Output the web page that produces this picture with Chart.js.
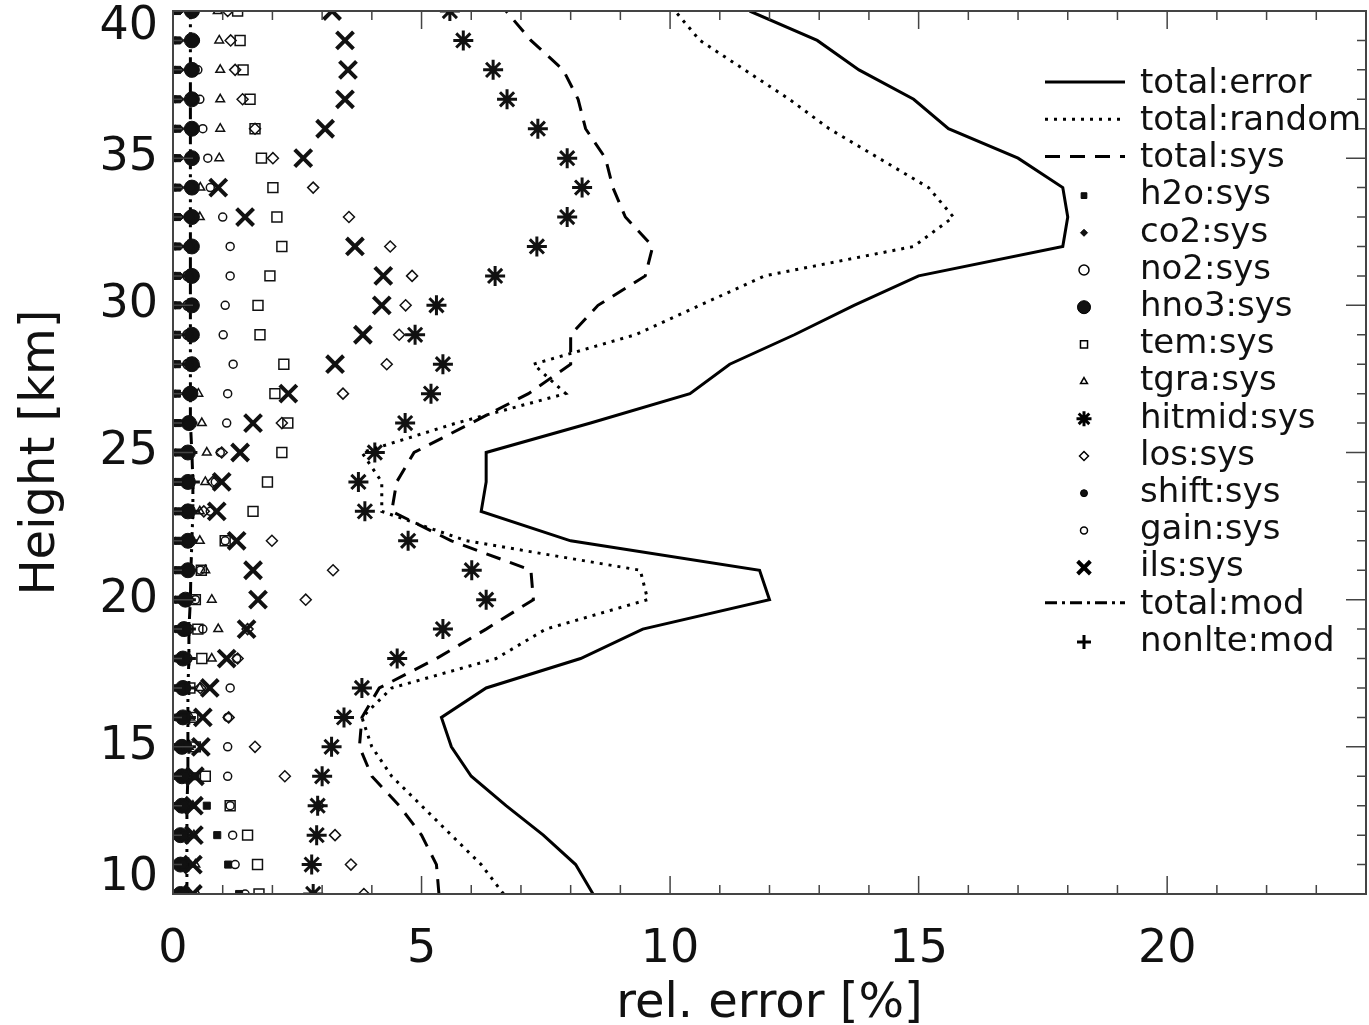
<!DOCTYPE html>
<html>
<head>
<meta charset="utf-8">
<script src="https://cdn.jsdelivr.net/npm/chart.js@4.4.0/dist/chart.umd.min.js"></script>
<style>
  html, body { margin:0; padding:0; background:#fff; }
  canvas { display:block; }
</style>
</head>
<body>
<canvas id="chart" width="1369" height="1025"></canvas>
<script>
// === Data (index 0 = 10 km) ===
const heights = [10,11,12,13,14,15,16,17,18,19,20,21,22,23,24,25,26,27,28,29,30,31,32,33,34,35,36,37,38,39,40];

const totalError  = [8.45,8.10,7.45,6.70,6.00,5.60,5.40,6.30,8.20,9.45,12.0,11.8,8.00,6.20,6.30,6.30,8.40,10.4,11.2,12.5,13.7,15.0,17.9,18.0,17.9,17.0,15.6,14.9,13.8,12.96,11.6];
const totalRandom = [6.65,6.20,5.60,5.00,4.40,4.00,3.80,4.40,6.50,7.50,9.55,9.40,5.90,4.20,4.20,3.80,5.70,7.90,7.25,9.30,10.6,11.9,14.9,15.7,15.2,14.2,13.2,12.4,11.5,10.6,10.1];
const totalSys    = [5.35,5.30,5.00,4.55,4.00,3.75,3.80,4.15,5.30,6.30,7.25,7.20,5.60,4.40,4.50,4.85,6.00,7.15,8.00,8.00,8.55,9.50,9.65,9.10,8.85,8.70,8.30,8.15,7.85,7.20,6.70];

const h2oSys    = [1.33,1.11,0.89,0.68,0.45,0.30,0.22,0.18,0.15,0.12,0.10,0.10,0.10,0.10,0.10,0.10,0.10,0.08,0.08,0.08,0.08,0.08,0.08,0.08,0.08,0.08,0.08,0.08,0.08,0.08,0.08];
const co2Sys    = [0.12,0.12,0.12,0.12,0.12,0.12,0.12,0.12,0.12,0.12,0.12,0.12,0.12,0.12,0.12,0.12,0.12,0.12,0.12,0.12,0.15,0.15,0.15,0.15,0.15,0.15,0.15,0.15,0.15,0.15,0.15];
const no2Sys    = [0.20,0.20,0.22,0.22,0.25,0.25,0.25,0.25,0.28,0.30,0.30,0.30,0.30,0.30,0.30,0.30,0.30,0.30,0.30,0.30,0.30,0.30,0.32,0.32,0.35,0.35,0.38,0.40,0.40,0.42,0.42];
const hno3Sys   = [0.15,0.15,0.15,0.18,0.18,0.18,0.20,0.20,0.20,0.22,0.25,0.30,0.30,0.30,0.30,0.30,0.32,0.35,0.38,0.38,0.38,0.38,0.38,0.38,0.38,0.38,0.38,0.38,0.38,0.38,0.38];
const temSys    = [1.73,1.70,1.50,1.15,0.65,0.45,0.40,0.34,0.58,0.50,0.45,0.57,1.05,1.61,1.90,2.19,2.31,2.05,2.23,1.75,1.71,1.95,2.19,2.09,2.01,1.78,1.65,1.55,1.41,1.35,1.30];
const tgraSys   = [0.48,0.45,0.42,0.40,0.35,0.32,0.35,0.54,0.78,0.91,0.78,0.65,0.54,0.54,0.65,0.68,0.58,0.51,0.45,0.42,0.40,0.40,0.42,0.54,0.55,0.93,0.95,0.95,0.95,0.93,0.90];
const hitmidSys = [2.82,2.79,2.89,2.91,3.00,3.19,3.44,3.80,4.51,5.43,6.30,6.01,4.73,3.86,3.73,4.06,4.67,5.19,5.43,4.87,5.30,6.48,7.32,7.93,8.23,7.93,7.34,6.72,6.44,5.84,5.57];
const losSys    = [3.84,3.58,3.26,2.93,2.25,1.65,1.12,0.55,1.30,1.50,2.67,3.22,1.99,0.62,0.80,0.98,2.19,3.42,4.30,4.55,4.68,4.81,4.37,3.54,2.82,2.01,1.65,1.40,1.25,1.16,1.10];
const shiftSys  = [0.05,0.05,0.05,0.05,0.05,0.05,0.05,0.05,0.05,0.05,0.05,0.05,0.05,0.05,0.05,0.05,0.05,0.05,0.05,0.05,0.05,0.05,0.05,0.05,0.05,0.05,0.05,0.05,0.05,0.05,0.05];
const gainSys   = [1.45,1.25,1.20,1.15,1.10,1.10,1.10,1.15,1.28,0.60,0.45,0.55,1.05,0.75,0.85,0.95,1.08,1.10,1.21,1.01,1.05,1.15,1.15,1.00,0.75,0.70,0.60,0.54,0.50,0.45,0.40];
const ilsSys    = [0.40,0.40,0.42,0.42,0.44,0.56,0.60,0.74,1.08,1.48,1.71,1.61,1.28,0.88,0.98,1.35,1.61,2.32,3.26,3.82,4.20,4.23,3.66,1.45,0.91,2.62,3.06,3.46,3.52,3.46,3.20];
const totalMod  = [0.28,0.28,0.28,0.28,0.30,0.30,0.30,0.30,0.32,0.32,0.35,0.36,0.38,0.40,0.40,0.38,0.35,0.35,0.35,0.35,0.35,0.35,0.35,0.35,0.35,0.35,0.35,0.35,0.35,0.35,0.35];
const nonlteMod = [0.30,0.30,0.30,0.30,0.30,0.32,0.32,0.32,0.32,0.32,0.32,0.35,0.35,0.40,0.40,0.35,0.35,0.32,0.32,0.32,0.32,0.32,0.32,0.35,0.35,0.35,0.35,0.35,0.35,0.35,0.35];

const xTicksMajor = [0, 5, 10, 15, 20];
const FONT = '"DejaVu Sans", sans-serif';

// === Helpers ===
function pts(vals){ return vals.map((v, i) => ({ x: v, y: heights[i] })); }

function lineSet(label, vals, dash){
  return { label, data: pts(vals), showLine: true, borderColor: '#000', borderWidth: 3,
           borderDash: dash, pointRadius: 0, fill: false, tension: 0 };
}

function markSet(label, vals, style, r, filled, bw, legendR){
  return { label, data: pts(vals), showLine: false, pointStyle: style,
           pointRadius: r, pointHoverRadius: r, pointBorderWidth: bw,
           borderColor: '#111', backgroundColor: filled ? '#111' : 'rgba(0,0,0,0)',
           legendRadius: legendR };
}

// === Box with inward ticks (IDL style) ===
const frame = {
  id: 'frame',
  afterDatasetsDraw(chart){
    const { ctx, chartArea: a, scales: { x, y } } = chart;
    ctx.save();
    ctx.strokeStyle = '#444';
    ctx.lineWidth = 2;
    ctx.strokeRect(a.left, a.top, a.right - a.left, a.bottom - a.top);
    ctx.lineWidth = 1.5;
    ctx.beginPath();
    for (let v = Math.ceil(x.min); v <= x.max; v++){
      const px = x.getPixelForValue(v), L = v % 5 === 0 ? 18 : 9;
      ctx.moveTo(px, a.bottom); ctx.lineTo(px, a.bottom - L);
      ctx.moveTo(px, a.top);    ctx.lineTo(px, a.top + L);
    }
    for (let h = Math.ceil(y.min); h <= y.max; h++){
      const py = y.getPixelForValue(h), L = h % 5 === 0 ? 20 : 9;
      ctx.moveTo(a.left, py);  ctx.lineTo(a.left + L, py);
      ctx.moveTo(a.right, py); ctx.lineTo(a.right - L, py);
    }
    ctx.stroke();
    ctx.restore();
  }
};

// === Legend drawn inside plot, top right ===
const legendBox = {
  id: 'legendBox',
  afterDraw(chart){
    const ctx = chart.ctx;
    ctx.save();
    ctx.font = '34px ' + FONT;
    ctx.textBaseline = 'middle';
    chart.data.datasets.forEach((ds, i) => {
      const yy = 84 + i * 37.2;
      ctx.strokeStyle = '#000';
      if (ds.showLine){
        ctx.setLineDash(ds.borderDash || []);
        ctx.lineWidth = 3;
        ctx.beginPath(); ctx.moveTo(1045, yy - 2); ctx.lineTo(1125, yy - 2); ctx.stroke();
        ctx.setLineDash([]);
      } else {
        ctx.fillStyle = ds.backgroundColor;
        ctx.lineWidth = ds.pointBorderWidth;
        Chart.helpers.drawPoint(ctx, { pointStyle: ds.pointStyle, radius: ds.legendRadius,
          rotation: 0, borderWidth: ds.pointBorderWidth }, 1084, yy);
      }
      ctx.fillStyle = '#111';
      ctx.fillText(ds.label, 1140, yy);
    });
    ctx.restore();
  }
};

// === Chart ===
const datasets = [
  lineSet('total:error',  totalError,  []),
  lineSet('total:random', totalRandom, [3, 6]),
  lineSet('total:sys',    totalSys,    [15, 10]),
  markSet('h2o:sys',    h2oSys,    'rect',     5,    true,  1,   4),
  markSet('co2:sys',    co2Sys,    'rectRot',  3.5,  true,  1,   3.5),
  markSet('no2:sys',    no2Sys,    'circle',   5,    false, 1.5, 5),
  markSet('hno3:sys',   hno3Sys,   'circle',   7.5,  true,  1,   6.5),
  markSet('tem:sys',    temSys,    'rect',     7,    false, 1.5, 5),
  markSet('tgra:sys',   tgraSys,   'triangle', 5,    false, 1.5, 4),
  markSet('hitmid:sys', hitmidSys, 'star',     10,   true,  3,   7.5),
  markSet('los:sys',    losSys,    'rectRot',  5.5,  false, 1.5, 4.5),
  markSet('shift:sys',  shiftSys,  'circle',   3.5,  true,  1,   3.5),
  markSet('gain:sys',   gainSys,   'circle',   4,    false, 1.5, 3.5),
  markSet('ils:sys',    ilsSys,    'crossRot', 12,   true,  4,   9),
  lineSet('total:mod',  totalMod,  [12, 5, 3, 5]),
  markSet('nonlte:mod', nonlteMod, 'cross',    7,    true,  3,   7)
];

new Chart(document.getElementById('chart'), {
  type: 'scatter',
  data: { datasets },
  options: {
    responsive: false,
    animation: false,
    events: [],
    layout: { autoPadding: false, padding: { top: 11, right: 3, left: 0, bottom: 0 } },
    plugins: { legend: { display: false }, tooltip: { enabled: false } },
    scales: {
      x: {
        type: 'linear', min: 0, max: 24,
        grid: { display: false, drawTicks: false },
        border: { display: false },
        afterBuildTicks: s => { s.ticks = xTicksMajor.map(v => ({ value: v })); },
        ticks: { padding: 28, color: '#111', font: { family: FONT, size: 46 } },
        title: { display: true, text: 'rel. error [%]', color: '#111',
                 font: { family: FONT, size: 48, lineHeight: 0.85 }, padding: 0 },
        afterFit: s => { s.height = 131; s.paddingLeft = 0; s.paddingRight = 0; }
      },
      y: {
        type: 'linear', min: 10, max: 40,
        grid: { display: false, drawTicks: false },
        border: { display: false },
        ticks: { stepSize: 5, padding: 15, color: '#111',
                 font: { family: FONT, size: 46, lineHeight: 0.7 },
                 callback: v => v === 40 ? ['', String(v)] : (v === 10 ? [String(v), ''] : String(v)) },
        title: { display: true, text: 'Height [km]', color: '#111',
                 font: { family: FONT, size: 48 }, padding: { top: 13, bottom: 0 } },
        afterFit: s => { s.width = 173; s.paddingTop = 0; s.paddingBottom = 0; }
      }
    }
  },
  plugins: [frame, legendBox]
});
</script>
</body>
</html>
